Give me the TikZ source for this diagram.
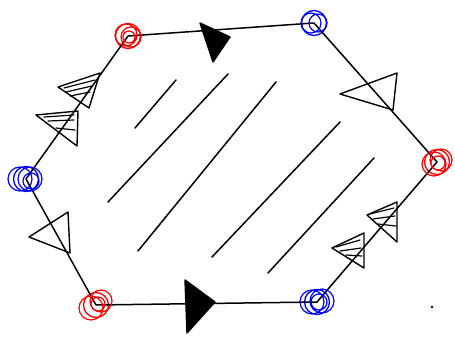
\documentclass[tikz,border=0pt]{standalone}
\begin{document}
\begin{tikzpicture}[x=1pt,y=-1pt,
  edge/.style={line width=1.5pt, line join=round, line cap=round},
  vtx/.style={circle, inner sep=0pt, minimum size=25pt, line width=1.3pt},
  redv/.style={vtx, draw=red},
  bluev/.style={vtx, draw=blue},
  rring/.style={draw=red, line width=1.2pt},
  bring/.style={draw=blue, line width=1.2pt},
  tri/.style={draw, line width=1.4pt, line join=round},
  solidtri/.style={draw, fill=black, line width=1.4pt, line join=round},
  scrib/.style={line width=1.2pt, line cap=round},
  hatch/.style={line width=1.5pt, line cap=round}]
\useasboundingbox (0,0) rectangle (455,342);
% vertices
\node[redv]  (rtl) at (128,36) {};
\node[bluev] (btr) at (314,23) {};
\node[redv]  (rr)  at (437,162) {};
\node[bluev] (bbr) at (317,302) {};
\node[redv]  (rbl) at (96,305) {};
\node[bluev] (bl)  at (26,179) {};
% edges
\draw[edge] (rtl.center) -- (btr.center) -- (rr.center) -- (bbr.center) -- (rbl.center) -- (bl.center) -- cycle;
% extra rings
\draw[rring] (126,35) circle (11) (131,37) circle (10) (129,37) circle (6);
\draw[bring] (311,23) circle (10) (318,23) circle (9);
\draw[bring] (20,179) circle (12) (30,179) circle (12) (31,181) circle (8);
\draw[rring] (434,164) circle (12) (441,160) circle (11) (438,163) circle (7);
\draw[bring] (312,302) circle (12) (322,301) circle (12) (319,302) circle (8);
\draw[rring] (91,308) circle (12) (101,301) circle (11) (98,304) circle (7);
% triangles
\draw[solidtri] (200,23) -- (230,37) -- (213,62) -- cycle;
\draw[solidtri] (185,280) -- (215,302) -- (187,333) -- cycle;
\draw[tri] (58,87) -- (100,73) -- (89,108) -- cycle;
\draw[scrib] (64,88) -- (95,80) (66,92) -- (92,86) (70,96) -- (90,92);
\draw[tri] (36,115) -- (78,111) -- (77,146) -- cycle;
\draw[scrib] (44,117) -- (74,115) (48,121) -- (74,120) (56,128) -- (75,130);
\draw[tri] (340,94) -- (397,73) -- (393,110) -- cycle;
\draw[tri] (367,215) -- (397,202) -- (397,242) -- cycle;
\draw[scrib] (370,214) -- (394,208) (373,219) -- (395,216) (378,224) -- (396,226);
\draw[tri] (332,248) -- (364,233) -- (364,268) -- cycle;
\draw[scrib] (336,247) -- (360,240) (340,251) -- (361,248) (346,255) -- (362,256);
\draw[tri] (29,237) -- (68,212) -- (70,253) -- cycle;
% hatching
\draw[hatch] (135,128) -- (176,80);
\draw[hatch] (108,202) -- (228,74);
\draw[hatch] (138,251) -- (276,82);
\draw[hatch] (212,257) -- (340,122);
\draw[hatch] (268,273) -- (374,158);
% dot
\fill (432,307) circle (1.3);
\end{tikzpicture}
\end{document}
